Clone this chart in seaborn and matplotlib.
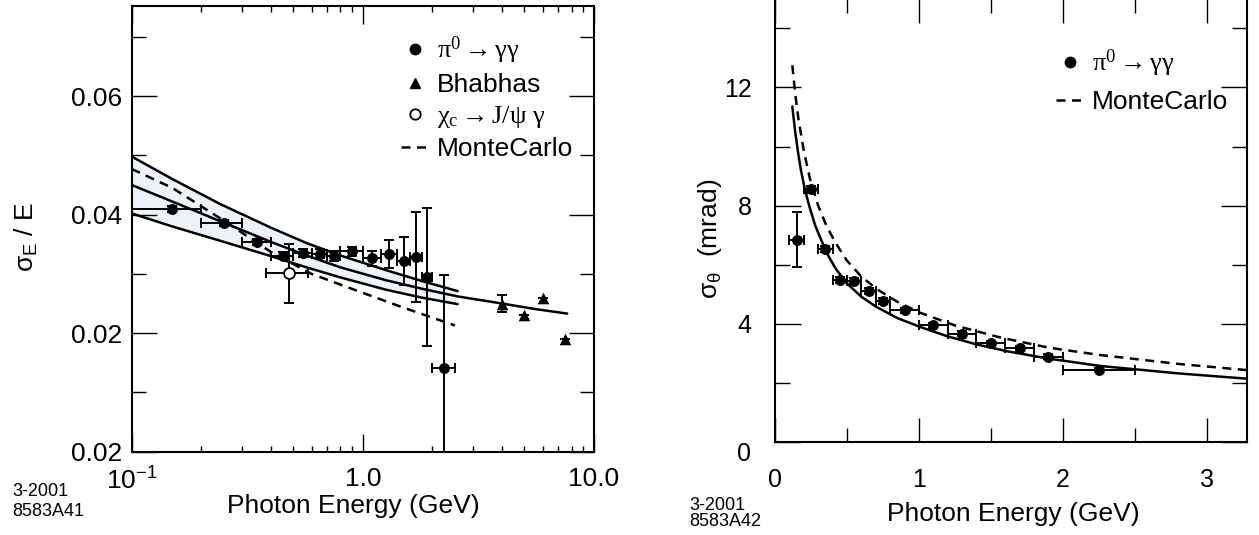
import numpy as np
import pandas as pd
import matplotlib
matplotlib.use("Agg")
import matplotlib.pyplot as plt
import seaborn as sns
from matplotlib.lines import Line2D
from matplotlib.ticker import FixedLocator, FixedFormatter, NullFormatter, LogLocator

# ---------------- data: left panel (energy resolution) ----------------
pi0_E = [0.15, 0.25, 0.35, 0.45, 0.55, 0.65, 0.75, 0.90, 1.10, 1.30, 1.50, 1.70, 1.90, 2.25]
pi0_E_lo = [0.10, 0.20, 0.30, 0.40, 0.50, 0.60, 0.70, 0.80, 1.00, 1.20, 1.40, 1.60, 1.80, 2.00]
pi0_E_hi = [0.20, 0.30, 0.40, 0.50, 0.60, 0.70, 0.80, 1.00, 1.20, 1.40, 1.60, 1.80, 2.00, 2.50]
pi0_res = [0.0409, 0.0386, 0.0354, 0.0331, 0.0335, 0.0334, 0.0330, 0.0338, 0.0326, 0.0334,
           0.0322, 0.0329, 0.0295, 0.0142]
pi0_res_err = [0.0005, 0.0005, 0.0005, 0.0006, 0.0007, 0.0008, 0.0008, 0.0008, 0.0012, 0.0024,
               0.0041, 0.0076, 0.0116, 0.0156]

bhabha_E = [4.0, 5.0, 6.0, 7.5]
bhabha_res = [0.0250, 0.0230, 0.0260, 0.0190]
bhabha_err = [0.0014, 0.0, 0.0, 0.0]

chic_E = [0.48]
chic_E_err = [0.10]
chic_res = [0.0301]
chic_res_err = [0.0050]

band_E = [0.10, 0.15, 0.241, 0.40, 0.571, 0.80, 1.268, 1.80, 2.57]
band_upper = [0.0498, 0.0460, 0.0418, 0.0378, 0.0352, 0.0331, 0.0306, 0.0288, 0.0271]
band_lower = [0.0402, 0.0380, 0.0356, 0.0330, 0.0311, 0.0294, 0.0273, 0.0260, 0.0249]
fit_E = [0.10, 0.15, 0.241, 0.40, 0.571, 0.80, 1.268, 1.80, 2.57, 4.0, 5.5, 7.66]
fit_res = [0.0450, 0.0422, 0.0389, 0.0354, 0.0331, 0.0311, 0.0289, 0.0275, 0.0262, 0.0250,
           0.0241, 0.0233]
mcE_E = [0.10, 0.15, 0.25, 0.40, 0.60, 1.00, 1.50, 2.50]
mcE_res = [0.0477, 0.0445, 0.0390, 0.0337, 0.0300, 0.0268, 0.0243, 0.0213]

left_yticks = [0.0, 0.02, 0.04, 0.06]
left_ytick_labels = ["0.02", "0.02", "0.04", "0.06"]
left_xticks = [0.1, 1.0, 10.0]
left_xtick_labels = [r"$\mathsf{10^{-1}}$", "1.0", "10.0"]

# ---------------- data: right panel (angular resolution) ----------------
ang_E = [0.15, 0.25, 0.35, 0.45, 0.55, 0.65, 0.75, 0.90, 1.10, 1.30, 1.50, 1.70, 1.90, 2.25]
ang_res = [6.85, 8.56, 6.52, 5.50, 5.44, 5.12, 4.77, 4.46, 3.96, 3.67, 3.36, 3.18, 2.89, 2.45]
ang_err = [0.93, 0.12, 0.10, 0.10, 0.10, 0.10, 0.10, 0.08, 0.08, 0.08, 0.08, 0.08, 0.08, 0.05]

angfit_E = [0.12, 0.14, 0.16, 0.18, 0.208, 0.24, 0.28, 0.32, 0.359, 0.42, 0.498, 0.60, 0.707,
            0.85, 1.008, 1.20, 1.40, 1.61, 1.90, 2.26, 2.80, 3.28]
angfit_res = [11.35, 10.5, 9.80, 9.20, 8.53, 7.95, 7.32, 6.85, 6.40, 5.88, 5.38, 4.92, 4.57,
              4.20, 3.90, 3.58, 3.31, 3.08, 2.83, 2.58, 2.33, 2.15]
angmc_E = [0.12, 0.14, 0.162, 0.20, 0.243, 0.30, 0.359, 0.42, 0.498, 0.60, 0.707, 0.85, 1.008,
           1.25, 1.56, 1.90, 2.26, 2.80, 3.28]
angmc_res = [12.75, 11.8, 10.95, 9.85, 8.90, 8.00, 7.30, 6.75, 6.15, 5.60, 5.18, 4.75, 4.38,
             3.95, 3.55, 3.20, 2.95, 2.65, 2.44]

right_yticks = [0, 4, 8, 12]
right_xticks = [0, 1, 2, 3]

# ---------------- style ----------------
sns.set_theme(style="ticks")
plt.rcParams["font.family"] = ["Liberation Sans", "DejaVu Sans"]
plt.rcParams["mathtext.fontset"] = "custom"
plt.rcParams["mathtext.rm"] = "Liberation Serif"
plt.rcParams["mathtext.it"] = "Liberation Serif:italic"
plt.rcParams["mathtext.bf"] = "Liberation Serif:bold"
plt.rcParams["mathtext.sf"] = "Liberation Sans"
plt.rcParams["axes.linewidth"] = 1.5
plt.rcParams["axes.edgecolor"] = "black"
plt.rcParams["text.color"] = "black"
plt.rcParams["axes.labelcolor"] = "black"
plt.rcParams["xtick.color"] = "black"
plt.rcParams["ytick.color"] = "black"

LW = 1.8
DASH = (0, (3.6, 2.6))
ERR = dict(fmt="none", ecolor="black", elinewidth=1.4, capsize=3.4, capthick=1.4, zorder=3)

fig = plt.figure(figsize=(12.59, 5.35), dpi=100)
axL = fig.add_axes([0.1046, 0.1557, 0.3672, 0.8331])
axR = fig.add_axes([0.6156, 0.1733, 0.3751, 0.8293])

# ================= left panel =================
axL.set_xscale("log")
axL.fill_between(band_E, band_lower, band_upper, color="#edf2f8", lw=0, zorder=0)
sns.lineplot(x=band_E, y=band_upper, ax=axL, color="black", lw=LW, estimator=None, sort=False, zorder=2)
sns.lineplot(x=band_E, y=band_lower, ax=axL, color="black", lw=LW, estimator=None, sort=False, zorder=2)
sns.lineplot(x=fit_E, y=fit_res, ax=axL, color="black", lw=LW, estimator=None, sort=False, zorder=2)
sns.lineplot(x=mcE_E, y=mcE_res, ax=axL, color="black", lw=LW, linestyle=DASH,
             estimator=None, sort=False, zorder=2)

E = np.array(pi0_E)
axL.errorbar(pi0_E, pi0_res, xerr=[E - np.array(pi0_E_lo), np.array(pi0_E_hi) - E],
             yerr=pi0_res_err, **ERR)
axL.errorbar(bhabha_E, bhabha_res, yerr=bhabha_err, **ERR)
axL.errorbar(chic_E, chic_res, xerr=chic_E_err, yerr=chic_res_err, **ERR)
sns.scatterplot(x=pi0_E, y=pi0_res, ax=axL, color="black", marker="o", s=62, linewidth=0, zorder=4)
sns.scatterplot(x=bhabha_E, y=bhabha_res, ax=axL, color="black", marker="^", s=70, linewidth=0, zorder=4)
sns.scatterplot(x=chic_E, y=chic_res, ax=axL, color="white", marker="o", s=62,
                edgecolor="black", linewidth=1.3, zorder=4)

axL.set_xlim(0.1, 10.0)
axL.set_ylim(0.0, 0.0752)
axL.xaxis.set_major_locator(FixedLocator(left_xticks))
axL.xaxis.set_major_formatter(FixedFormatter(left_xtick_labels))
axL.xaxis.set_minor_locator(LogLocator(base=10, subs=range(2, 10)))
axL.xaxis.set_minor_formatter(NullFormatter())
axL.yaxis.set_major_locator(FixedLocator(left_yticks))
axL.yaxis.set_major_formatter(FixedFormatter(left_ytick_labels))
axL.yaxis.set_minor_locator(FixedLocator([0.01, 0.03, 0.05, 0.07]))
axL.tick_params(which="both", direction="in", top=True, right=True, width=1.0, labelsize=19)
axL.tick_params(axis="x", which="major", length=13, pad=11)
axL.tick_params(axis="x", which="minor", length=4.5)
axL.tick_params(axis="y", which="major", length=18, pad=7)
axL.tick_params(axis="y", which="minor", length=10)

axL.set_xlabel("Photon Energy (GeV)", fontsize=19)
axL.xaxis.set_label_coords(0.4804, -0.1225)
axL.xaxis.label.set_va("center")
axL.set_ylabel(r"$\mathsf{\sigma_E}$ / E", fontsize=19)
axL.yaxis.set_label_coords(-0.2273, 0.481)
axL.yaxis.label.set_va("center")

hL = [Line2D([], [], marker="o", color="black", ls="none", markersize=7.5),
      Line2D([], [], marker="^", color="black", ls="none", markersize=6.5),
      Line2D([], [], marker="o", mfc="white", mec="black", mew=1.3, ls="none", markersize=7.5),
      Line2D([], [], color="black", lw=LW, ls=DASH)]
lL = [r"$\mathrm{\pi^0 \rightarrow \gamma\gamma}$", "Bhabhas",
      r"$\mathrm{\chi_c \rightarrow J/\psi\ \gamma}$", "MonteCarlo"]
axL.legend(hL, lL, loc="upper left", bbox_to_anchor=(0.5825, 0.935), frameon=False, fontsize=19,
           handlelength=1.06, handletextpad=0.3, labelspacing=0.26, borderpad=0, borderaxespad=0)

# ================= right panel =================
sns.lineplot(x=angfit_E, y=angfit_res, ax=axR, color="black", lw=LW, estimator=None, sort=False, zorder=2)
sns.lineplot(x=angmc_E, y=angmc_res, ax=axR, color="black", lw=LW, linestyle=DASH,
             estimator=None, sort=False, zorder=2)
A = np.array(ang_E)
axR.errorbar(ang_E, ang_res, xerr=[A - np.array(pi0_E_lo), np.array(pi0_E_hi) - A],
             yerr=ang_err, **ERR)
sns.scatterplot(x=ang_E, y=ang_res, ax=axR, color="black", marker="o", s=62, linewidth=0, zorder=4)

axR.set_xlim(0, 3.282)
axR.set_ylim(0, 15)
axR.xaxis.set_major_locator(FixedLocator(right_xticks))
axR.xaxis.set_minor_locator(FixedLocator([0.5, 1.5, 2.5]))
axR.yaxis.set_major_locator(FixedLocator(right_yticks))
axR.yaxis.set_minor_locator(FixedLocator([2, 6, 10, 14]))
axR.tick_params(which="both", direction="in", top=True, right=True, width=1.0, labelsize=18)
axR.tick_params(axis="x", which="major", length=17, pad=18.5)
axR.tick_params(axis="x", which="minor", length=10)
axR.tick_params(axis="y", which="major", length=18.5, pad=17)
axR.tick_params(axis="y", which="minor", length=10.5)
fig.canvas.draw()
axR.get_yticklabels()[0].set_va("top")

axR.set_xlabel("Photon Energy (GeV)", fontsize=19)
axR.xaxis.set_label_coords(0.504, -0.161)
axR.xaxis.label.set_va("center")
axR.set_ylabel(r"$\mathsf{\sigma_\theta}$  (mrad)", fontsize=19)
axR.yaxis.set_label_coords(-0.1376, 0.4586)
axR.yaxis.label.set_va("center")

hR = [Line2D([], [], marker="o", color="black", ls="none", markersize=7.5),
      Line2D([], [], color="black", lw=LW, ls=DASH)]
lR = [r"$\mathrm{\pi^0 \rightarrow \gamma\gamma}$", "MonteCarlo"]
axR.legend(hR, lR, loc="upper left", bbox_to_anchor=(0.595, 0.89), frameon=False, fontsize=19,
           handlelength=1.06, handletextpad=0.3, labelspacing=0.42, borderpad=0, borderaxespad=0)

# figure codes
fig.text(12 / 1259, 1 - 491 / 535, "3-2001", fontsize=13, va="center", ha="left")
fig.text(12 / 1259, 1 - 511 / 535, "8583A41", fontsize=13, va="center", ha="left")
fig.text(689 / 1259, 1 - 505 / 535, "3-2001", fontsize=13, va="center", ha="left")
fig.text(689 / 1259, 1 - 522 / 535, "8583A42", fontsize=13, va="center", ha="left")

fig.savefig("out.png", dpi=100)
